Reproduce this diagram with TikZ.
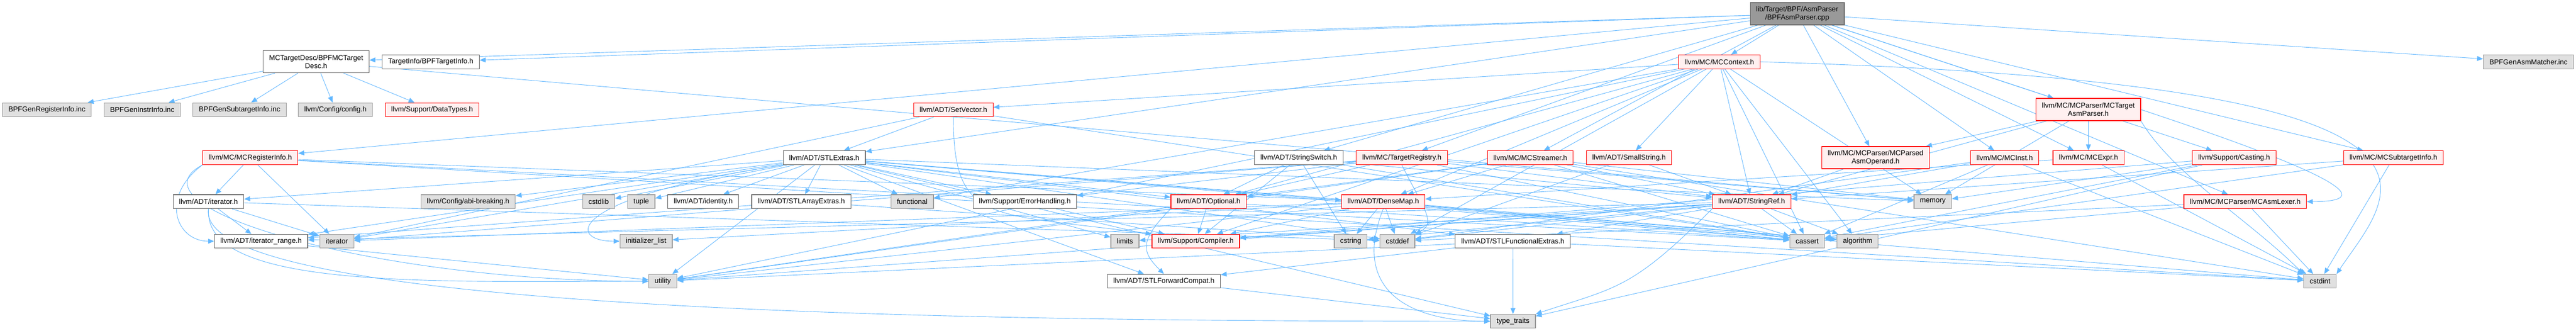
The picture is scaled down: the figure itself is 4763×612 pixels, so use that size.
\documentclass[tikz,border=0pt]{standalone}
\usepackage{fontspec}
\setmainfont{Liberation Sans}
\usepackage{xcolor}
\usetikzlibrary{arrows.meta,backgrounds}
\definecolor{edgeblue}{HTML}{63B8FF}
\definecolor{redline}{HTML}{FF0000}
\definecolor{redfill}{HTML}{FFF0F0}
\definecolor{grayfill}{HTML}{E0E0E0}
\definecolor{grayline}{HTML}{999999}
\definecolor{darkline}{HTML}{666666}

\begin{document}
\begin{tikzpicture}[
    x=1pt,y=-1pt,
    box/.style={rectangle,line width=1.2pt,inner xsep=11pt,inner ysep=6pt,minimum height=25.7pt,
        font=\fontsize{13.2}{15}\selectfont,align=center},
    whitebox/.style={box,draw=darkline,fill=white},
    redbox/.style={box,draw=redline,fill=redfill},
    graybox/.style={box,draw=grayline,fill=grayfill},
    rootbox/.style={box,draw=darkline,fill=grayline},
    twoline/.style={minimum height=41pt},
    dep/.style={-{Triangle[length=11pt,width=9pt]},draw=edgeblue,line width=0.9pt}
]
    \useasboundingbox (0,0) rectangle (4763,612);

    % Source file
    \node[rootbox,twoline] (ROOT) at (3323,25.5) {lib/Target/BPF/AsmParser\\/BPFAsmParser.cpp};

    % Row 1
    \node[whitebox,twoline] (TDESC) at (584.5,114.2) {MCTargetDesc/BPFMCTarget\\Desc.h};
    \node[whitebox] (TINFO) at (796.4,114.3) {TargetInfo/BPFTargetInfo.h};
    \node[redbox] (MCCTX) at (3179,114.3) {llvm/MC/MCContext.h};
    \node[graybox] (MATCHER) at (4675,114.3) {BPFGenAsmMatcher.inc};

    % Row 2
    \node[graybox] (GREG) at (86.7,203) {BPFGenRegisterInfo.inc};
    \node[graybox] (GINSTR) at (263,203) {BPFGenInstrInfo.inc};
    \node[graybox] (GSUB) at (442.9,203) {BPFGenSubtargetInfo.inc};
    \node[graybox] (CFG) at (620.2,203) {llvm/Config/config.h};
    \node[redbox] (DTYPES) at (799,203) {llvm/Support/DataTypes.h};
    \node[redbox] (SETVEC) at (1762.8,203) {llvm/ADT/SetVector.h};
    \node[redbox,twoline] (TASMP) at (3861.2,202.6) {llvm/MC/MCParser/MCTarget\\AsmParser.h};

    % Row 3
    \node[redbox] (MCREG) at (462.8,291.6) {llvm/MC/MCRegisterInfo.h};
    \node[whitebox] (STLEXT) at (1524,291.6) {llvm/ADT/STLExtras.h};
    \node[whitebox] (SSW) at (2401.3,291.6) {llvm/ADT/StringSwitch.h};
    \node[redbox] (TREG) at (2592,291.6) {llvm/MC/TargetRegistry.h};
    \node[redbox] (STRM) at (2829.6,291.6) {llvm/MC/MCStreamer.h};
    \node[redbox] (SSTR) at (3012,291.6) {llvm/ADT/SmallString.h};
    \node[redbox,twoline] (PARSOP) at (3467.9,291.6) {llvm/MC/MCParser/MCParsed\\AsmOperand.h};
    \node[redbox] (MCINST) at (3706.6,291.6) {llvm/MC/MCInst.h};
    \node[redbox] (MCEXPR) at (3861.5,291.6) {llvm/MC/MCExpr.h};
    \node[redbox] (CAST) at (4130.9,291.6) {llvm/Support/Casting.h};
    \node[redbox] (SUBTI) at (4425.3,291.6) {llvm/MC/MCSubtargetInfo.h};

    % Row 4
    \node[whitebox] (ITER) at (385.5,372.8) {llvm/ADT/iterator.h};
    \node[graybox] (ABI) at (865.5,372.8) {llvm/Config/abi-breaking.h};
    \node[graybox] (CSTDLIB) at (1106.9,372.8) {cstdlib};
    \node[graybox] (TUPLE) at (1185.7,372.8) {tuple};
    \node[whitebox] (IDENT) at (1300.3,372.8) {llvm/ADT/identity.h};
    \node[whitebox] (ARREXT) at (1481.6,372.8) {llvm/ADT/STLArrayExtras.h};
    \node[graybox] (FUNC) at (1686.7,372.8) {functional};
    \node[whitebox] (ERRH) at (1894.9,372.8) {llvm/Support/ErrorHandling.h};
    \node[redbox] (OPT) at (2234.7,372.8) {llvm/ADT/Optional.h};
    \node[redbox] (DMAP) at (2557.6,372.8) {llvm/ADT/DenseMap.h};
    \node[redbox] (SREF) at (3238.8,372.8) {llvm/ADT/StringRef.h};
    \node[graybox] (MEM) at (3573.7,372.8) {memory};
    \node[redbox] (LEXER) at (4151.3,372.8) {llvm/MC/MCParser/MCAsmLexer.h};

    % Row 5
    \node[whitebox] (ITRANGE) at (482.7,446) {llvm/ADT/iterator\_range.h};
    \node[graybox] (ITSTD) at (622.7,446) {iterator};
    \node[graybox] (INITL) at (1194.6,446) {initializer\_list};
    \node[graybox] (LIMITS) at (2080,446) {limits};
    \node[redbox] (COMP) at (2211,446) {llvm/Support/Compiler.h};
    \node[graybox] (CSTRING) at (2497.4,446) {cstring};
    \node[graybox] (CSTDDEF) at (2583.7,446) {cstddef};
    \node[whitebox] (FUNCEXT) at (2797.2,446) {llvm/ADT/STLFunctionalExtras.h};
    \node[graybox] (CASSERT) at (3341.4,446) {cassert};
    \node[graybox] (ALGO) at (3434.7,446) {algorithm};

    % Row 6 and 7
    \node[graybox] (UTIL) at (1225.5,520) {utility};
    \node[whitebox] (FWDC) at (2152,520) {llvm/ADT/STLForwardCompat.h};
    \node[graybox] (CSTDINT) at (4289.6,520) {cstdint};
    \node[graybox] (TTRAITS) at (2797.5,594) {type\_traits};

    \begin{scope}[on background layer]
        \fill[white] (0,0) rectangle (4763,612);

        % Includes of the source file
        \draw[dep] (ROOT) -- (TDESC);
        \draw[dep] (ROOT) -- (TINFO);
        \draw[dep] (ROOT) -- (STLEXT);
        \draw[dep] (ROOT) -- (SSW);
        \draw[dep] (ROOT) -- (MCCTX);
        \draw[dep] (ROOT) -- (MCEXPR);
        \draw[dep] (ROOT) -- (MCINST);
        \draw[dep] (ROOT) -- (LEXER);
        \draw[dep] (ROOT) -- (PARSOP);
        \draw[dep] (ROOT) -- (TASMP);
        \draw[dep] (ROOT) -- (MCREG);
        \draw[dep] (ROOT) -- (STRM);
        \draw[dep] (ROOT) -- (SUBTI);
        \draw[dep] (ROOT) -- (TREG);
        \draw[dep] (ROOT) -- (CAST);
        \draw[dep] (ROOT) -- (MATCHER);

        % BPFMCTargetDesc.h
        \draw[dep] (TDESC) -- (GREG);
        \draw[dep] (TDESC) -- (GINSTR);
        \draw[dep] (TDESC) -- (GSUB);
        \draw[dep] (TDESC) -- (CFG);
        \draw[dep] (TDESC) -- (DTYPES);
        \draw[dep] (TDESC) -- (MEM);

        % MCRegisterInfo.h
        \draw[dep] (MCREG) -- (DMAP);
        \draw[dep] (MCREG) -- (ITER);
        \draw[dep] (MCREG.south west) .. controls +(-80,60) and +(-70,0) .. (ITRANGE.west);
        \draw[dep] (MCREG) -- (CASSERT);
        \draw[dep] (MCREG) -- (CSTDINT);
        \draw[dep] (MCREG) -- (ITSTD);
        \draw[dep] (MCREG.south west) .. controls +(-150,80) and +(-500,0) .. (UTIL.west);

        % iterator.h and iterator_range.h
        \draw[dep] (ITER) -- (ITRANGE);
        \draw[dep] (ITER) -- (CSTDDEF);
        \draw[dep] (ITER) -- (ITSTD);
        \draw[dep] (ITER.south) .. controls +(-30,200) and +(-800,0) .. (TTRAITS.west);
        \draw[dep] (ITER.south) .. controls +(-10,150) and +(-400,0) .. (UTIL.west);
        \draw[dep] (ITRANGE) -- (UTIL);

        % STLExtras.h
        \draw[dep] (STLEXT) -- (OPT);
        \draw[dep] (STLEXT) -- (ARREXT);
        \draw[dep] (STLEXT) -- (FWDC);
        \draw[dep] (STLEXT) -- (FUNCEXT);
        \draw[dep] (STLEXT) -- (IDENT);
        \draw[dep] (STLEXT) -- (ITER);
        \draw[dep] (STLEXT) -- (ITRANGE);
        \draw[dep] (STLEXT) -- (ABI);
        \draw[dep] (STLEXT) -- (ERRH);
        \draw[dep] (STLEXT) -- (ALGO);
        \draw[dep] (STLEXT) -- (CASSERT);
        \draw[dep] (STLEXT) -- (CSTDDEF);
        \draw[dep] (STLEXT) -- (CSTDINT);
        \draw[dep] (STLEXT) -- (CSTDLIB);
        \draw[dep] (STLEXT) -- (FUNC);
        \draw[dep] (STLEXT.south west) .. controls +(-400,60) and +(-100,0) .. (INITL.west);
        \draw[dep] (STLEXT) -- (ITSTD);
        \draw[dep] (STLEXT) -- (LIMITS);
        \draw[dep] (STLEXT) -- (MEM);
        \draw[dep] (STLEXT) -- (TUPLE);
        \draw[dep] (STLEXT) -- (TTRAITS);
        \draw[dep] (STLEXT) -- (UTIL);

        % Small ADT and Support headers
        \draw[dep] (ARREXT) -- (CSTDDEF);
        \draw[dep] (ERRH) -- (COMP);
        \draw[dep] (FWDC) -- (TTRAITS);
        \draw[dep] (FUNCEXT) -- (FWDC);
        \draw[dep] (FUNCEXT) -- (CSTDINT);
        \draw[dep] (FUNCEXT) -- (TTRAITS);
        \draw[dep] (FUNCEXT) -- (UTIL);

        % StringSwitch.h
        \draw[dep] (SSW) -- (SREF);
        \draw[dep] (SSW) -- (OPT);
        \draw[dep] (SSW) -- (COMP);
        \draw[dep] (SSW) -- (CASSERT);
        \draw[dep] (SSW) -- (CSTRING);

        % SetVector.h
        \draw[dep] (SETVEC) -- (STLEXT);
        \draw[dep] (SETVEC.south) .. controls +(0,200) and +(-300,-40) .. (COMP.north west);
        \draw[dep] (SETVEC) -- (CASSERT);
        \draw[dep] (SETVEC) -- (ITSTD);

        % Optional.h
        \draw[dep] (OPT.south west) .. controls +(-60,60) and +(-40,-40) .. (FWDC.north);
        \draw[dep] (OPT) -- (COMP);
        \draw[dep] (OPT) -- (CASSERT);
        \draw[dep] (OPT) -- (UTIL);

        % TargetRegistry.h
        \draw[dep] (TREG) -- (OPT);
        \draw[dep] (TREG) -- (SREF);
        \draw[dep] (TREG) -- (ITRANGE);
        \draw[dep] (TREG) -- (ERRH);
        \draw[dep] (TREG) -- (CASSERT);
        \draw[dep] (TREG.south) .. controls +(40,80) and +(40,-20) .. (CSTDDEF.north east);
        \draw[dep] (TREG) -- (ITSTD);
        \draw[dep] (TREG) -- (MEM);

        % MCStreamer.h
        \draw[dep] (STRM) -- (DMAP);
        \draw[dep] (STRM) -- (OPT);
        \draw[dep] (STRM) -- (SREF);
        \draw[dep] (STRM) -- (CASSERT);
        \draw[dep] (STRM) -- (CSTDINT);
        \draw[dep] (STRM) -- (MEM);
        \draw[dep] (STRM) -- (UTIL);

        % SmallString.h
        \draw[dep] (SSTR) -- (SREF);
        \draw[dep] (SSTR) -- (CSTDDEF);

        % MCContext.h
        \draw[dep] (MCCTX) -- (DMAP);
        \draw[dep] (MCCTX) -- (OPT);
        \draw[dep] (MCCTX) -- (SETVEC);
        \draw[dep] (MCCTX) -- (SSTR);
        \draw[dep] (MCCTX) -- (SREF);
        \draw[dep] (MCCTX) -- (COMP);
        \draw[dep] (MCCTX) -- (ALGO);
        \draw[dep] (MCCTX) -- (CASSERT);
        \draw[dep] (MCCTX) -- (CSTDDEF);
        \draw[dep] (MCCTX.east) .. controls +(1400,40) and +(100,-150) .. (CSTDINT.north east);
        \draw[dep] (MCCTX) -- (FUNC);
        \draw[dep] (MCCTX) -- (MEM);
        \draw[dep] (MCCTX) -- (UTIL);

        % DenseMap.h
        \draw[dep] (DMAP) -- (COMP);
        \draw[dep] (DMAP) -- (ALGO);
        \draw[dep] (DMAP) -- (CASSERT);
        \draw[dep] (DMAP) -- (CSTDDEF);
        \draw[dep] (DMAP) -- (CSTRING);
        \draw[dep] (DMAP) -- (INITL);
        \draw[dep] (DMAP) -- (ITSTD);
        \draw[dep] (DMAP.south) .. controls +(-60,150) and +(-150,0) .. (TTRAITS.west);
        \draw[dep] (DMAP) -- (UTIL);

        % StringRef.h
        \draw[dep] (SREF) -- (FUNCEXT);
        \draw[dep] (SREF) -- (ITRANGE);
        \draw[dep] (SREF) -- (COMP);
        \draw[dep] (SREF) -- (ALGO);
        \draw[dep] (SREF) -- (CASSERT);
        \draw[dep] (SREF) -- (CSTDDEF);
        \draw[dep] (SREF) -- (CSTRING);
        \draw[dep] (SREF) -- (LIMITS);
        \draw[dep] (SREF.south west) .. controls +(-150,150) and +(150,-50) .. (TTRAITS.north east);
        \draw[dep] (SREF) -- (UTIL);

        % MC parser and instruction headers
        \draw[dep] (TASMP) -- (SREF);
        \draw[dep] (TASMP) -- (MCEXPR);
        \draw[dep] (TASMP.east) .. controls +(150,50) and +(200,0) .. (LEXER.east);
        \draw[dep] (TASMP) -- (PARSOP);
        \draw[dep] (TASMP.south east) .. controls +(60,100) and +(-100,-100) .. (CSTDINT.north west);
        \draw[dep] (TASMP) -- (MEM);
        \draw[dep] (PARSOP) -- (SREF);
        \draw[dep] (MCINST) -- (SREF);
        \draw[dep] (MCINST) -- (CASSERT);
        \draw[dep] (MCINST) -- (CSTDDEF);
        \draw[dep] (MCINST) -- (CSTDINT);
        \draw[dep] (MCEXPR) -- (DMAP);
        \draw[dep] (MCEXPR) -- (CSTDINT);

        % Casting.h, MCSubtargetInfo.h, MCAsmLexer.h
        \draw[dep] (CAST) -- (COMP);
        \draw[dep] (CAST) -- (CASSERT);
        \draw[dep] (CAST) -- (MEM);
        \draw[dep] (CAST) -- (TTRAITS);
        \draw[dep] (SUBTI) -- (SREF);
        \draw[dep] (SUBTI) -- (CASSERT);
        \draw[dep] (SUBTI) -- (CSTDINT);
        \draw[dep] (LEXER) -- (CASSERT);
        \draw[dep] (LEXER) -- (CSTDDEF);
        \draw[dep] (LEXER) -- (CSTDINT);
    \end{scope}
\end{tikzpicture}
\end{document}
